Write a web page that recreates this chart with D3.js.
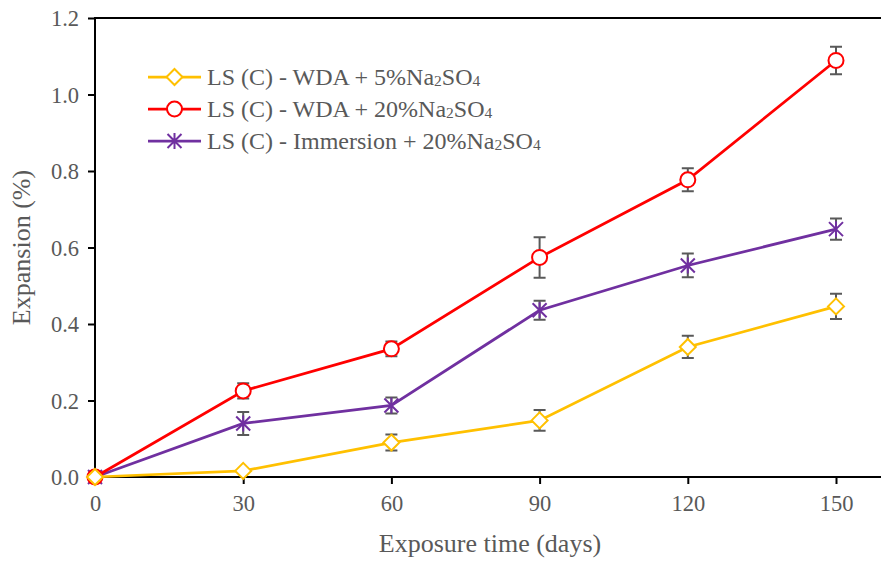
<!DOCTYPE html>
<html>
<head>
<meta charset="utf-8">
<script src="https://cdn.jsdelivr.net/npm/d3@7"></script>
<style>
  body { margin: 0; background: #fff; }
  text { font-family: "Liberation Serif", "Times New Roman", serif; fill: #595959; }
</style>
</head>
<body>
<svg id="chart" width="881" height="561"></svg>
<script>
// exposure time in days
var days = [0, 30, 60, 90, 120, 150];

// expansion (%) and error bars
var wda5 = [0, 0.016, 0.09, 0.148, 0.34, 0.446];
var wda5Err = [0, 0.004, 0.021, 0.027, 0.029, 0.033];
var wda20 = [0, 0.225, 0.335, 0.574, 0.777, 1.089];
var wda20Err = [0, 0.02, 0.019, 0.053, 0.03, 0.036];
var imm20 = [0, 0.14, 0.187, 0.436, 0.553, 0.648];
var imm20Err = [0, 0.03, 0.021, 0.025, 0.031, 0.028];

var yTicks = [0, 0.2, 0.4, 0.6, 0.8, 1.0, 1.2];
var xTicks = [0, 30, 60, 90, 120, 150];

var series = [
    { name: 'LS (C) - WDA + 5%', values: wda5, err: wda5Err, color: '#FFC000', marker: 'diamond' },
    { name: 'LS (C) - WDA + 20%', values: wda20, err: wda20Err, color: '#FF0000', marker: 'circle' },
    { name: 'LS (C) - Immersion + 20%', values: imm20, err: imm20Err, color: '#7030A0', marker: 'star' }
];

var svg = d3.select('#chart');
var plotLeft = 95, plotRight = 881, plotTop = 18, plotBottom = 477;

var x = d3.scaleLinear().domain([0, 150]).range([plotLeft, 836]);
var y = d3.scaleLinear().domain([0, 1.2]).range([plotBottom, plotTop]);

// top border
svg.append('line')
    .attr('x1', plotLeft).attr('x2', plotRight)
    .attr('y1', plotTop).attr('y2', plotTop)
    .attr('stroke', '#000').attr('stroke-width', 2);

var yAxis = svg.append('g')
    .attr('transform', 'translate(' + plotLeft + ',0)')
    .call(d3.axisLeft(y).tickValues(yTicks).tickFormat(d3.format('.1f')).tickSize(7).tickPadding(9));
var xAxis = svg.append('g')
    .attr('transform', 'translate(0,' + plotBottom + ')')
    .call(d3.axisBottom(x).tickValues(xTicks).tickSize(7).tickPadding(11));

[yAxis, xAxis].forEach(function (g) {
    g.select('.domain').remove();
    g.selectAll('.tick line').attr('stroke', '#000').attr('stroke-width', 2);
    g.selectAll('.tick text')
        .attr('font-size', 22.5)
        .style('font-family', '"Liberation Serif", serif')
        .attr('fill', '#595959');
});
yAxis.selectAll('.tick text').attr('dy', '0.35em');

// axis lines
svg.append('line')
    .attr('x1', plotLeft).attr('x2', plotLeft).attr('y1', plotTop - 1).attr('y2', plotBottom + 1)
    .attr('stroke', '#000').attr('stroke-width', 2);
svg.append('line')
    .attr('x1', plotLeft).attr('x2', plotRight).attr('y1', plotBottom).attr('y2', plotBottom)
    .attr('stroke', '#000').attr('stroke-width', 2);

var line = d3.line()
    .x(function (d) { return x(d.day); })
    .y(function (d) { return y(d.v); });

function drawMarker(g, type, color, cx, cy) {
    if (type === 'circle') {
        g.append('circle').attr('cx', cx).attr('cy', cy).attr('r', 7.5)
            .attr('fill', '#fff').attr('stroke', color).attr('stroke-width', 2);
    } else if (type === 'diamond') {
        var s = 8;
        g.append('path')
            .attr('d', 'M' + cx + ',' + (cy - s) + 'L' + (cx + s) + ',' + cy + 'L' + cx + ',' + (cy + s) + 'L' + (cx - s) + ',' + cy + 'Z')
            .attr('fill', '#fff').attr('stroke', color).attr('stroke-width', 2);
    } else {
        var a = 7;
        g.append('path')
            .attr('d', 'M' + (cx - a) + ',' + (cy - a) + 'L' + (cx + a) + ',' + (cy + a) +
                'M' + (cx - a) + ',' + (cy + a) + 'L' + (cx + a) + ',' + (cy - a) +
                'M' + cx + ',' + (cy - a - 1) + 'L' + cx + ',' + (cy + a + 1))
            .attr('fill', 'none').attr('stroke', color).attr('stroke-width', 2);
    }
}

// draw order: purple, red, yellow
[series[2], series[1], series[0]].forEach(function (s) {
    var pts = days.map(function (d, i) { return { day: d, v: s.values[i], e: s.err[i] }; });
    var g = svg.append('g');
    g.append('path').datum(pts)
        .attr('d', line)
        .attr('fill', 'none')
        .attr('stroke', s.color)
        .attr('stroke-width', 2.75);
    pts.forEach(function (p) {
        if (p.e > 0) {
            var cx = x(p.day), y1 = y(p.v + p.e), y2 = y(p.v - p.e);
            g.append('path')
                .attr('d', 'M' + cx + ',' + y1 + 'L' + cx + ',' + y2 +
                    'M' + (cx - 6) + ',' + y1 + 'L' + (cx + 6) + ',' + y1 +
                    'M' + (cx - 6) + ',' + y2 + 'L' + (cx + 6) + ',' + y2)
                .attr('stroke', '#595959').attr('stroke-width', 2).attr('fill', 'none');
        }
        drawMarker(g, s.marker, s.color, x(p.day), y(p.v));
    });
});

// legend
var legend = svg.append('g');
series.forEach(function (s, i) {
    var ly = 77 + i * 32;
    legend.append('line')
        .attr('x1', 148).attr('x2', 201).attr('y1', ly).attr('y2', ly)
        .attr('stroke', s.color).attr('stroke-width', 2.75);
    drawMarker(legend, s.marker, s.color, 174.5, ly);
    var t = legend.append('text')
        .attr('x', 207).attr('y', ly + 8)
        .attr('font-size', 24);
    t.append('tspan').text(s.name + 'Na');
    t.append('tspan').attr('font-size', 15.5).attr('dy', 1).text('2');
    t.append('tspan').attr('dy', -1).text('SO');
    t.append('tspan').attr('font-size', 15.5).attr('dy', 1).text('4');
});

// axis titles
svg.append('text')
    .attr('transform', 'translate(30,' + ((plotTop + plotBottom) / 2) + ') rotate(-90)')
    .attr('text-anchor', 'middle')
    .attr('font-size', 26)
    .text('Expansion (%)');
svg.append('text')
    .attr('x', 490).attr('y', 552)
    .attr('text-anchor', 'middle')
    .attr('font-size', 26)
    .text('Exposure time (days)');
</script>
</body>
</html>
